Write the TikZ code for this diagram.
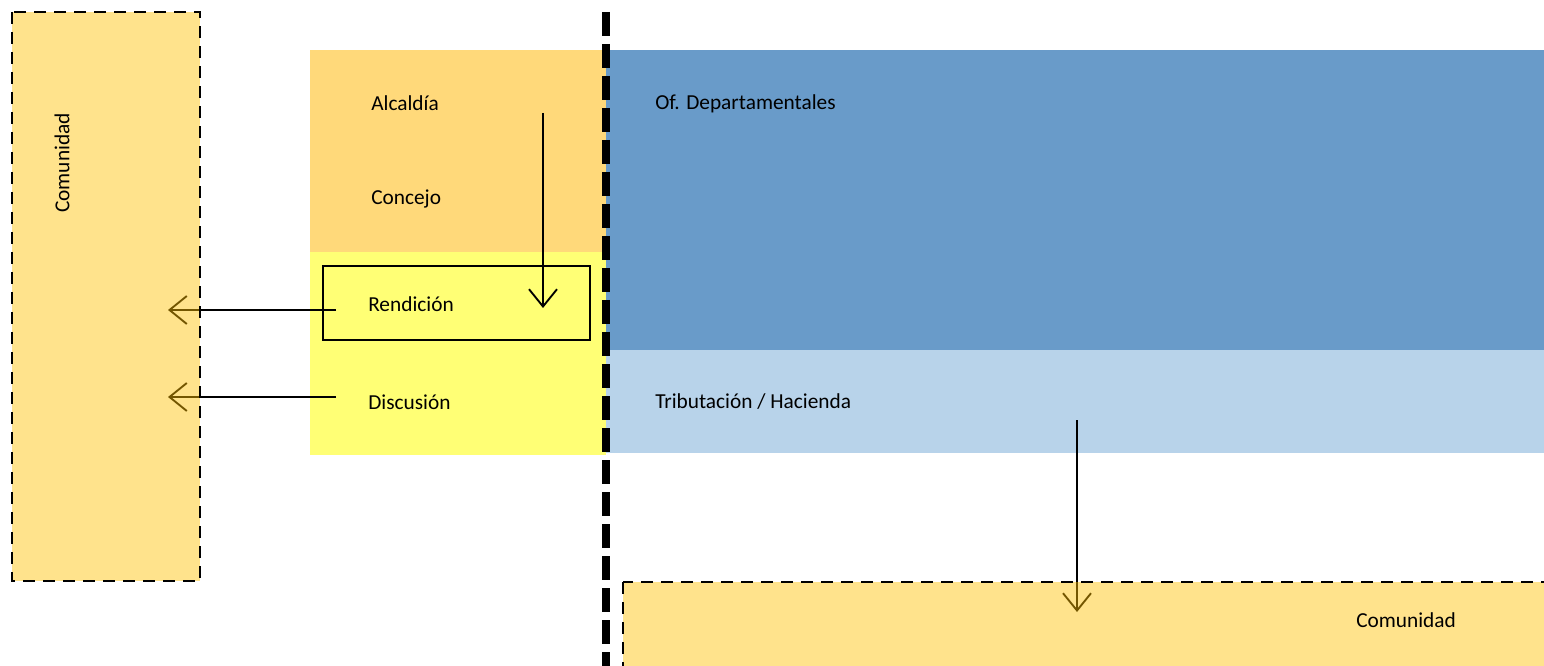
\documentclass[tikz,border=0pt]{standalone}
\usepackage{fontspec}
\setmainfont{Carlito}
\usetikzlibrary{arrows.meta}

\definecolor{comfill}{HTML}{FFC000}
\definecolor{topfill}{HTML}{FFD97A}
\definecolor{midfill}{HTML}{FFFF75}
\definecolor{deptfill}{HTML}{699BC9}
\definecolor{hacfill}{HTML}{B8D3EA}

\begin{document}
\begin{tikzpicture}[
		x=0.75pt, y=-0.75pt,
		every node/.style={font=\fontsize{16}{19}\selectfont, inner sep=0pt},
		txt/.style={anchor=west},
		comunidad/.style={fill=comfill, fill opacity=0.45, draw=black, draw opacity=1, line width=1.5pt, dash pattern=on 9pt off 6pt},
		flow/.style={draw, line width=1.1pt, -{Straight Barb[length=13pt, width=21pt, line width=1.4pt]}},
		]
		\useasboundingbox (0,0) rectangle (1544,666);
		\clip (0,0) rectangle (1544,666);
		% zonas
		\fill[topfill] (310,50) rectangle (606,252);
		\fill[midfill] (310,252) rectangle (606,455);
		\fill[deptfill] (606,50) rectangle (1544,350);
		\fill[hacfill] (606,350) rectangle (1544,453);
		% textos
		\node[txt] (alcaldia) at (371,103) {Alcaldía};
		\node[txt] (concejo) at (371,199) {Concejo};
		\node[txt] (rendicion) at (368,304) {Rendición};
		\node[txt] (discusion) at (368,402) {Discusión};
		\node[txt] (depto) at (655,104) {Of. Departamentales};
		\node[txt] (hacienda) at (655,402) {Tributación / Hacienda};
		\draw[line width=1.6pt] (323,266) rectangle (590,340);
		% conectores
		\coordinate (alcOut) at (543,113);
		\coordinate (rendIn) at (543,308);
		\coordinate (rendOut) at (336,310);
		\coordinate (comRend) at (168,310);
		\coordinate (discOut) at (336,397);
		\coordinate (comDisc) at (168,397);
		\coordinate (hacOut) at (1077,420);
		\coordinate (comHac) at (1077,612);
		\draw[flow] (alcOut) -- (rendIn);
		\draw[flow] (rendOut) -- (comRend);
		\draw[flow] (discOut) -- (comDisc);
		\draw[flow] (hacOut) -- (comHac);
		% comunidad
		\path[comunidad] (12,12) rectangle (200,581);
		\path[comunidad] (623,582) rectangle (1570,690);
		\node[rotate=90] (comA) at (62,163) {Comunidad};
		\node[txt] (comB) at (1356,620) {Comunidad};
		% separador
		\draw[line width=6pt, dash pattern=on 18pt off 6pt] (606,12) -- (606,666);
	\end{tikzpicture}
\end{document}
